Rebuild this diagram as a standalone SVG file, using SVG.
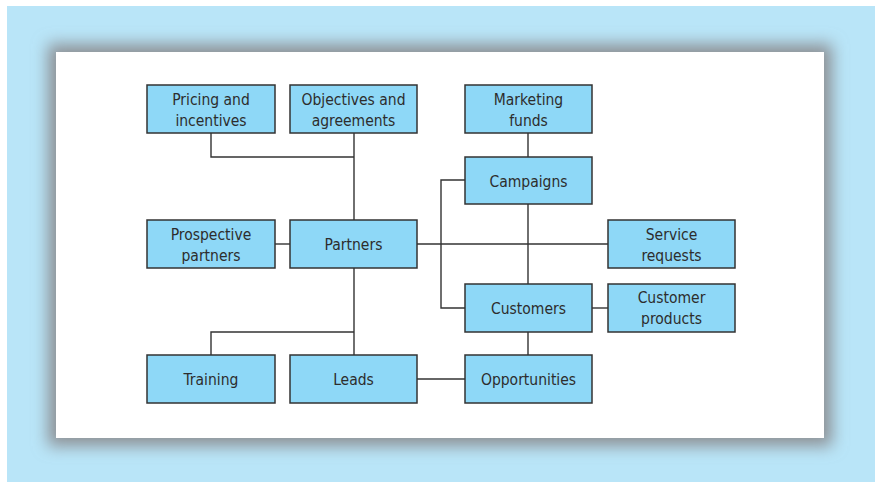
<svg xmlns="http://www.w3.org/2000/svg" width="875" height="482" viewBox="0 0 875 482">
<style>
.box{fill:#8ed8f7;stroke:#333;stroke-width:1.5}
.lbl{font-family:"DejaVu Sans Condensed","DejaVu Sans","Liberation Sans",sans-serif;font-stretch:condensed;font-size:15.5px;fill:#2d2d2d;text-anchor:middle}
.con{fill:none;stroke:#333;stroke-width:1.4}
</style>
<defs>
<filter id="sh" x="-10%" y="-15%" width="120%" height="130%">
<feGaussianBlur stdDeviation="8"/>
</filter>
</defs>
<rect x="0" y="0" width="875" height="482" fill="#ffffff"/>
<rect x="7" y="6" width="868" height="476" fill="#b9e5f8"/>
<rect x="48" y="44" width="784" height="402" fill="#8d9195" filter="url(#sh)"/>
<rect x="56" y="52" width="768" height="386" fill="#ffffff"/>
<g id="connectors">
<path class="con" d="M211 133V157H354"/>
<path class="con" d="M354 133V220"/>
<path class="con" d="M275 244H290"/>
<path class="con" d="M417 244H608"/>
<path class="con" d="M465 180H441V308H465"/>
<path class="con" d="M528 133V157"/>
<path class="con" d="M528 204V284"/>
<path class="con" d="M592 308H608"/>
<path class="con" d="M528 332V355"/>
<path class="con" d="M417 379H465"/>
<path class="con" d="M354 268V355"/>
<path class="con" d="M211 355V332H354"/>
</g>
<g id="pricing"><rect class="box" x="147" y="85" width="128" height="48"/><text class="lbl" x="211" y="105">Pricing and</text><text class="lbl" x="211" y="125.5">incentives</text></g>
<g id="objectives"><rect class="box" x="290" y="85" width="127" height="48"/><text class="lbl" x="353.5" y="105">Objectives and</text><text class="lbl" x="353.5" y="125.5">agreements</text></g>
<g id="marketing"><rect class="box" x="465" y="85" width="127" height="48"/><text class="lbl" x="528.5" y="105">Marketing</text><text class="lbl" x="528.5" y="125.5">funds</text></g>
<g id="campaigns"><rect class="box" x="465" y="157" width="127" height="47"/><text class="lbl" x="528.5" y="186.5">Campaigns</text></g>
<g id="prospective"><rect class="box" x="147" y="220" width="128" height="48"/><text class="lbl" x="211" y="240">Prospective</text><text class="lbl" x="211" y="260.5">partners</text></g>
<g id="partners"><rect class="box" x="290" y="220" width="127" height="48"/><text class="lbl" x="353.5" y="250">Partners</text></g>
<g id="service"><rect class="box" x="608" y="220" width="127" height="48"/><text class="lbl" x="671.5" y="240">Service</text><text class="lbl" x="671.5" y="260.5">requests</text></g>
<g id="customers"><rect class="box" x="465" y="284" width="127" height="48"/><text class="lbl" x="528.5" y="314">Customers</text></g>
<g id="custproducts"><rect class="box" x="608" y="284" width="127" height="48"/><text class="lbl" x="671.5" y="303">Customer</text><text class="lbl" x="671.5" y="323.5">products</text></g>
<g id="training"><rect class="box" x="147" y="355" width="128" height="48"/><text class="lbl" x="211" y="385">Training</text></g>
<g id="leads"><rect class="box" x="290" y="355" width="127" height="48"/><text class="lbl" x="353.5" y="385">Leads</text></g>
<g id="opportunities"><rect class="box" x="465" y="355" width="127" height="48"/><text class="lbl" x="528.5" y="385">Opportunities</text></g>
</svg>
